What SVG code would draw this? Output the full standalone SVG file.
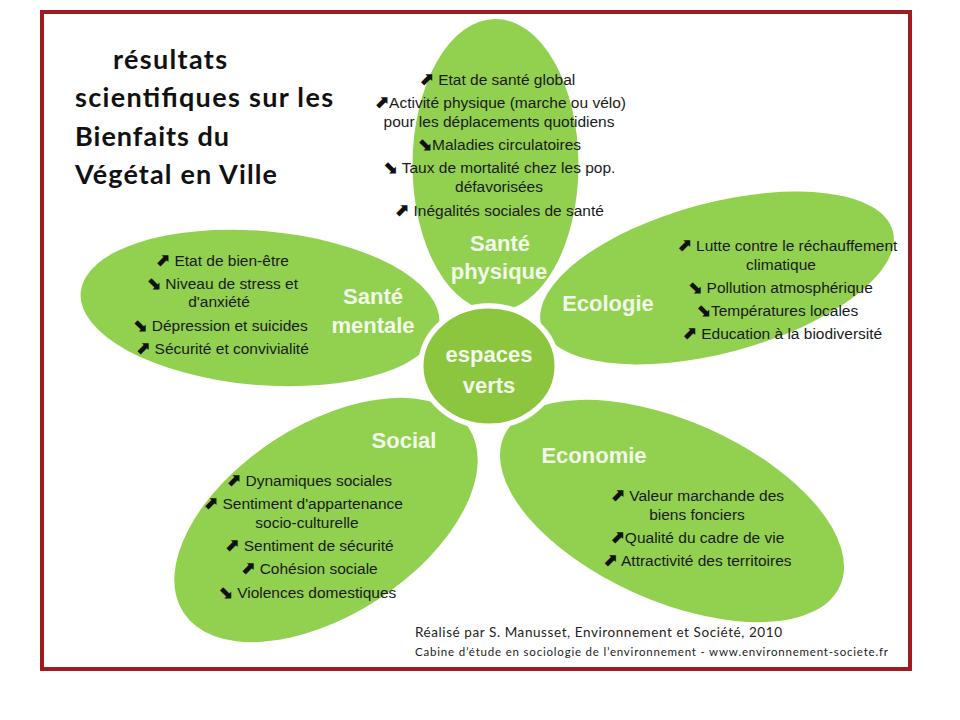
<svg xmlns="http://www.w3.org/2000/svg" width="960" height="720" viewBox="0 0 960 720">
<style>
.petal{fill:#92d050}
.body{font-family:"Liberation Sans",Arial,sans-serif;font-size:15.5px;fill:#1a1a1a;text-anchor:middle}
.ar{font-family:"DejaVu Sans",sans-serif;font-size:18px;font-weight:bold;fill:#111}
.head{font-family:"Liberation Sans",Arial,sans-serif;font-size:22px;font-weight:bold;fill:#f3f9ea;text-anchor:middle}
.title{font-family:Lato,"Open Sans",sans-serif;font-size:27px;font-weight:bold;fill:#111}
.foot{font-family:Lato,"Open Sans",sans-serif;fill:#222}
</style>
<rect width="960" height="720" fill="#ffffff"/>
<rect x="42" y="12" width="868" height="657" fill="none" stroke="#9e1b20" stroke-width="4"/>
<g id="title">
<text class="title" x="113" y="69" textLength="114">résultats</text>
<text class="title" x="75" y="107" textLength="258">scientifiques sur les</text>
<text class="title" x="75" y="146" textLength="154">Bienfaits du</text>
<text class="title" x="75" y="184" textLength="202">Végétal en Ville</text>
</g>
<g id="sante-physique">
<ellipse class="petal" cx="495.5" cy="165" rx="83" ry="146"/>
<text class="body" x="497" y="85"><tspan class="ar">⬈</tspan> Etat de santé global</text>
<text class="body" x="500" y="108"><tspan class="ar">⬈</tspan>Activité physique (marche ou vélo)</text>
<text class="body" x="499" y="127">pour les déplacements quotidiens</text>
<text class="body" x="499" y="150"><tspan class="ar">⬊</tspan>Maladies circulatoires</text>
<text class="body" x="499" y="173"><tspan class="ar">⬊</tspan> Taux de mortalité chez les pop.</text>
<text class="body" x="499" y="192">défavorisées</text>
<text class="body" x="499" y="216"><tspan class="ar">⬈</tspan> Inégalités sociales de santé</text>
<text class="head" x="500" y="251">Santé</text>
<text class="head" x="499" y="279">physique</text>
</g>
<g id="sante-mentale">
<ellipse class="petal" cx="260" cy="308" rx="180" ry="77" transform="rotate(5 260 308)"/>
<text class="body" x="222" y="266"><tspan class="ar">⬈</tspan> Etat de bien-être</text>
<text class="body" x="222" y="289"><tspan class="ar">⬊</tspan> Niveau de stress et</text>
<text class="body" x="219" y="307">d'anxiété</text>
<text class="body" x="220" y="331"><tspan class="ar">⬊</tspan> Dépression et suicides</text>
<text class="body" x="222" y="354"><tspan class="ar">⬈</tspan> Sécurité et convivialité</text>
<text class="head" x="373" y="304">Santé</text>
<text class="head" x="373" y="333">mentale</text>
</g>
<g id="ecologie">
<ellipse class="petal" cx="717" cy="278" rx="182" ry="75" transform="rotate(-15 717 278)"/>
<text class="body" x="787" y="251"><tspan class="ar">⬈</tspan> Lutte contre le réchauffement</text>
<text class="body" x="781" y="270">climatique</text>
<text class="body" x="780" y="293"><tspan class="ar">⬊</tspan> Pollution atmosphérique</text>
<text class="body" x="777" y="316"><tspan class="ar">⬊</tspan>Températures locales</text>
<text class="body" x="782" y="339"><tspan class="ar">⬈</tspan> Education à la biodiversité</text>
<text class="head" x="608" y="311">Ecologie</text>
</g>
<g id="social">
<ellipse class="petal" cx="326" cy="520" rx="170" ry="95" transform="rotate(-33 326 520)"/>
<text class="body" x="309" y="486"><tspan class="ar">⬈</tspan> Dynamiques sociales</text>
<text class="body" x="303" y="509"><tspan class="ar">⬈</tspan> Sentiment d'appartenance</text>
<text class="body" x="307" y="528">socio-culturelle</text>
<text class="body" x="309" y="551"><tspan class="ar">⬈</tspan> Sentiment de sécurité</text>
<text class="body" x="309" y="574"><tspan class="ar">⬈</tspan> Cohésion sociale</text>
<text class="body" x="307" y="598"><tspan class="ar">⬊</tspan> Violences domestiques</text>
<text class="head" x="404" y="448">Social</text>
</g>
<g id="economie">
<ellipse class="petal" cx="672" cy="511" rx="184" ry="90" transform="rotate(24 672 511)"/>
<text class="body" x="697" y="501"><tspan class="ar">⬈</tspan> Valeur marchande des</text>
<text class="body" x="697" y="520">biens fonciers</text>
<text class="body" x="697" y="543"><tspan class="ar">⬈</tspan>Qualité du cadre de vie</text>
<text class="body" x="697" y="566"><tspan class="ar">⬈</tspan> Attractivité des territoires</text>
<text class="head" x="594" y="463">Economie</text>
</g>
<g id="espaces-verts">
<ellipse cx="489" cy="366" rx="71" ry="63" fill="#ffffff" opacity="0.6"/>
<ellipse cx="489" cy="366" rx="68" ry="60" fill="#8cc63e" stroke="#ffffff" stroke-width="5"/>
<text class="head" x="489" y="362" font-size="26" fill="#f6fbe9">espaces</text>
<text class="head" x="489" y="393" font-size="26" fill="#f6fbe9">verts</text>
</g>
<g id="footer">
<text class="foot" x="415" y="637" font-size="13.5" textLength="367">Réalisé par S. Manusset, Environnement et Société, 2010</text>
<text class="foot" x="415" y="656" font-size="11.5" textLength="473">Cabine d’étude en sociologie de l’environnement - www.environnement-societe.fr</text>
</g>
<g id="connectors"></g>
</svg>
